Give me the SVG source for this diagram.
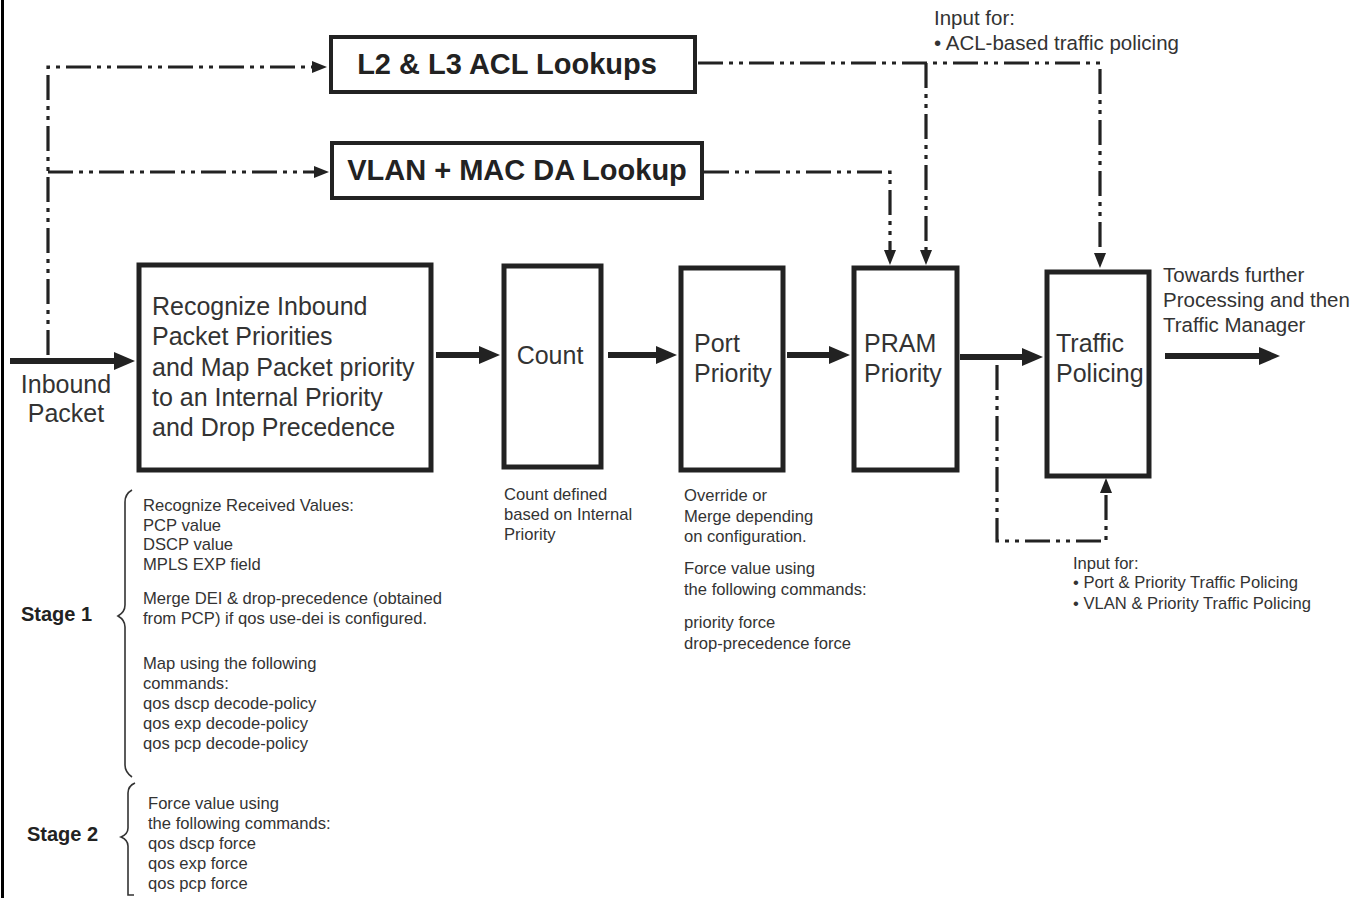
<svg xmlns="http://www.w3.org/2000/svg" width="1369" height="898" viewBox="0 0 1369 898">
<defs>
<style>
.box{fill:#fff;stroke:#222;stroke-width:5}
.lbox{fill:#fff;stroke:#222;stroke-width:4}
.t{font-family:"Liberation Sans",Arial,sans-serif;fill:#333}
.big{font-size:25px}
.bold{font-family:"Liberation Sans",Arial,sans-serif;font-weight:bold;fill:#222}
.sm{font-size:16.6px}
.md{font-size:20.5px}
.main{stroke:#222;stroke-width:6;fill:none}
.dd{stroke:#222;stroke-width:3.2;fill:none;stroke-dasharray:25 6 4 6 4 6}
.brace{stroke:#333;stroke-width:1.6;fill:none}
</style>
<marker id="ah" markerUnits="userSpaceOnUse" markerWidth="22" markerHeight="20" refX="0" refY="9" orient="auto">
<path d="M0,0 L21,9 L0,18 z" fill="#222"/>
</marker>
<marker id="as" markerUnits="userSpaceOnUse" markerWidth="16" markerHeight="14" refX="0" refY="6" orient="auto">
<path d="M0,0 L15,6 L0,12 z" fill="#222"/>
</marker>
</defs>
<rect x="0" y="0" width="1369" height="898" fill="#fff"/>
<line x1="2.5" y1="0" x2="2.5" y2="898" stroke="#000" stroke-width="3"/>

<g id="connectors">
<path class="main" d="M10,361 H114" marker-end="url(#ah)"/>
<path class="main" d="M436,355 H479" marker-end="url(#ah)"/>
<path class="main" d="M608,355 H656" marker-end="url(#ah)"/>
<path class="main" d="M787,355 H829" marker-end="url(#ah)"/>
<path class="main" d="M960,357 H1022" marker-end="url(#ah)"/>
<path class="main" d="M1165,356 H1259" marker-end="url(#ah)"/>
<path class="dd" d="M48,355 V67 H312" marker-end="url(#as)"/>
<path class="dd" d="M48,172 H314" marker-end="url(#as)"/>
<path class="dd" d="M698,63 H1100 V253" marker-end="url(#as)"/>
<path class="dd" d="M926,63 V250" marker-end="url(#as)"/>
<path class="dd" d="M704,172 H890 V250" marker-end="url(#as)"/>
<path class="dd" d="M997,365 V541 H1106 V493" marker-end="url(#as)"/>
</g>

<g id="acl">
<rect class="lbox" x="331" y="37" width="364" height="55"/>
<text class="bold" x="507" y="74" font-size="29" text-anchor="middle">L2 &amp; L3 ACL Lookups</text>
</g>
<g id="vlan">
<rect class="lbox" x="332" y="143" width="370" height="55"/>
<text class="bold" x="517" y="180" font-size="29" text-anchor="middle">VLAN + MAC DA Lookup</text>
</g>

<g id="recognize">
<rect class="box" x="139" y="265" width="292" height="205"/>
<text class="t big" x="152" y="315">Recognize Inbound</text>
<text class="t big" x="152" y="345">Packet Priorities</text>
<text class="t big" x="152" y="376">and Map Packet priority</text>
<text class="t big" x="152" y="406">to an Internal Priority</text>
<text class="t big" x="152" y="436">and Drop Precedence</text>
</g>
<g id="count">
<rect class="box" x="504" y="266" width="97" height="201"/>
<text class="t big" x="550" y="364" text-anchor="middle">Count</text>
</g>
<g id="port">
<rect class="box" x="681" y="268" width="102" height="202"/>
<text class="t big" x="694" y="352">Port</text>
<text class="t big" x="694" y="382">Priority</text>
</g>
<g id="pram">
<rect class="box" x="854" y="268" width="103" height="202"/>
<text class="t big" x="864" y="352">PRAM</text>
<text class="t big" x="864" y="382">Priority</text>
</g>
<g id="policing">
<rect class="box" x="1047" y="272" width="102" height="204"/>
<text class="t big" x="1056" y="352">Traffic</text>
<text class="t big" x="1056" y="382">Policing</text>
</g>

<g id="labels">
<text class="t md" x="934" y="25">Input for:</text>
<text class="t md" x="934" y="50">• ACL-based traffic policing</text>
<text class="t md" x="1163" y="282">Towards further</text>
<text class="t md" x="1163" y="307">Processing and then</text>
<text class="t md" x="1163" y="332">Traffic Manager</text>
<text class="t big" x="66" y="393" text-anchor="middle">Inbound</text>
<text class="t big" x="66" y="422" text-anchor="middle">Packet</text>
<text class="t sm" x="504" y="500">Count defined</text>
<text class="t sm" x="504" y="520">based on Internal</text>
<text class="t sm" x="504" y="540">Priority</text>
<text class="t sm" x="684" y="501">Override or</text>
<text class="t sm" x="684" y="522">Merge depending</text>
<text class="t sm" x="684" y="542">on configuration.</text>
<text class="t sm" x="684" y="574">Force value using</text>
<text class="t sm" x="684" y="595">the following commands:</text>
<text class="t sm" x="684" y="628">priority force</text>
<text class="t sm" x="684" y="649">drop-precedence force</text>
<text class="t sm" x="1073" y="569">Input for:</text>
<text class="t sm" x="1073" y="588">• Port &amp; Priority Traffic Policing</text>
<text class="t sm" x="1073" y="609">• VLAN &amp; Priority Traffic Policing</text>
</g>

<g id="stage1">
<text class="bold" x="21" y="621" font-size="20">Stage 1</text>
<path class="brace" d="M132,490 Q125,494 125,502 V605 Q125,612 118,616 Q125,620 125,627 V765 Q125,772 132,777"/>
<text class="t sm" x="143" y="511">Recognize Received Values:</text>
<text class="t sm" x="143" y="531">PCP value</text>
<text class="t sm" x="143" y="550">DSCP value</text>
<text class="t sm" x="143" y="570">MPLS EXP field</text>
<text class="t sm" x="143" y="604">Merge DEI &amp; drop-precedence (obtained</text>
<text class="t sm" x="143" y="624">from PCP) if qos use-dei is configured.</text>
<text class="t sm" x="143" y="669">Map using the following</text>
<text class="t sm" x="143" y="689">commands:</text>
<text class="t sm" x="143" y="709">qos dscp decode-policy</text>
<text class="t sm" x="143" y="729">qos exp decode-policy</text>
<text class="t sm" x="143" y="749">qos pcp decode-policy</text>
</g>
<g id="stage2">
<text class="bold" x="27" y="841" font-size="20">Stage 2</text>
<path class="brace" d="M135,783 Q128,786 128,793 V828 Q128,834 121,837 Q128,840 128,846 V895 H134"/>
<text class="t sm" x="148" y="809">Force value using</text>
<text class="t sm" x="148" y="829">the following commands:</text>
<text class="t sm" x="148" y="849">qos dscp force</text>
<text class="t sm" x="148" y="869">qos exp force</text>
<text class="t sm" x="148" y="889">qos pcp force</text>
</g>
</svg>
